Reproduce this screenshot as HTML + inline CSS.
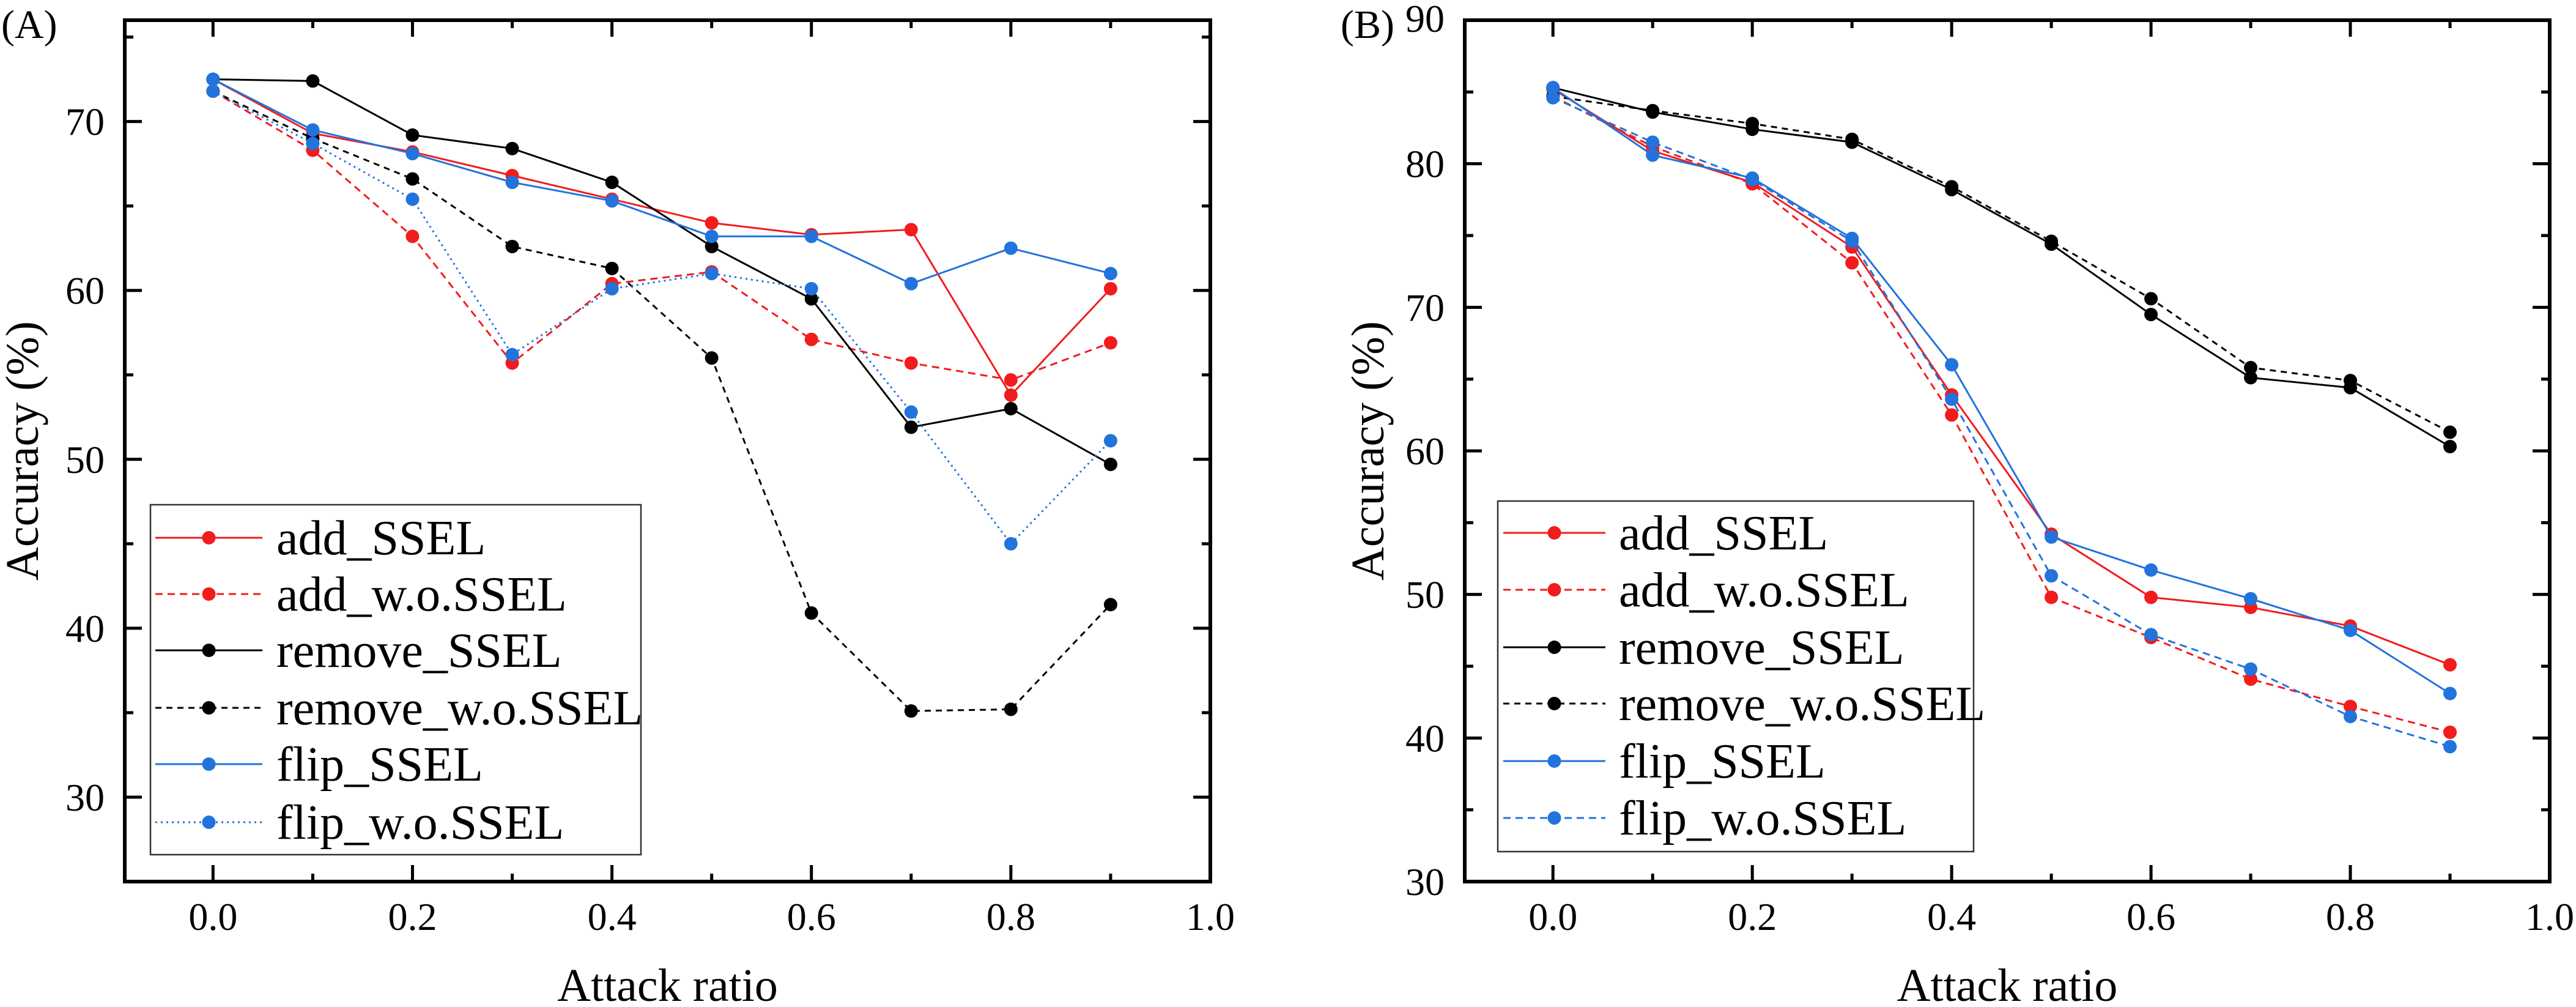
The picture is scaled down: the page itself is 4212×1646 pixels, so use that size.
<!DOCTYPE html>
<html><head><meta charset="utf-8"><style>
html,body{margin:0;padding:0;background:#fff;}
svg{display:block;font-family:"Liberation Serif","Times New Roman","DejaVu Serif",serif;}
</style></head><body>
<svg id="fig" width="4212" height="1646" viewBox="0 0 4212 1646"></svg>
<script>
const xValues = [0,0.1,0.2,0.3,0.4,0.5,0.6,0.7,0.8,0.9];
const xTickLabels = ["0.0","0.2","0.4","0.6","0.8","1.0"];
const seriesNames = ["add_SSEL","add_w.o.SSEL","remove_SSEL","remove_w.o.SSEL","flip_SSEL","flip_w.o.SSEL"];
const aAddSSEL = [72.5,69.3,68.2,66.8,65.4,64.0,63.3,63.6,53.8,60.1];
const aAddWo = [71.8,68.3,63.2,55.7,60.4,61.1,57.1,55.7,54.7,56.9];
const aRemoveSSEL = [72.5,72.4,69.2,68.4,66.4,62.6,59.5,51.9,53.0,49.7];
const aRemoveWo = [71.8,69.0,66.6,62.6,61.3,56.0,40.9,35.1,35.2,41.4];
const aFlipSSEL = [72.5,69.5,68.1,66.4,65.3,63.2,63.2,60.4,62.5,61.0];
const aFlipWo = [71.8,68.7,65.4,56.2,60.1,61.0,60.1,52.8,45.0,51.1];
const aYTicks = [30,40,50,60,70];
const bAddSSEL = [85.2,80.9,78.7,74.2,63.9,54.2,49.8,49.1,47.8,45.1];
const bAddWo = [84.7,81.2,78.6,73.1,62.5,49.8,47.0,44.1,42.2,40.4];
const bRemoveSSEL = [85.3,83.6,82.4,81.5,78.2,74.4,69.5,65.1,64.4,60.3];
const bRemoveWo = [84.7,83.7,82.8,81.7,78.4,74.6,70.6,65.8,64.9,61.3];
const bFlipSSEL = [85.3,80.6,79.0,74.8,66.0,54.0,51.7,49.7,47.5,43.1];
const bFlipWo = [84.6,81.5,78.9,74.6,63.6,51.3,47.2,44.8,41.5,39.4];
const bYTicks = [30,40,50,60,70,80,90];

const NS = "http://www.w3.org/2000/svg";
const svg = document.getElementById('fig');
function mk(tag, attrs, parent){
  const e = document.createElementNS(NS, tag);
  for (const k in attrs) e.setAttribute(k, attrs[k]);
  (parent||svg).appendChild(e);
  return e;
}
const RED="#f21c1c", BLUE="#2273dc", BLK="#000";

function panel(opt){
  const g = mk('g',{});
  
  
  const L=opt.left, R=opt.right, T=33, B=1441;
  const xmin=-0.0885, xmax=1.0;
  const sx = v => L + (v-xmin)/(xmax-xmin)*(R-L);
  const sy = v => B - (v-opt.ymin)/(opt.ymax-opt.ymin)*(B-T);
  const tk = mk('g',{stroke:'#000','stroke-width':5},g);
  
  
  for (let i=0;i<=10;i++){
    const v=i/10, x=sx(v), len=(i%2==0)?27:13;
    mk('line',{x1:x,x2:x,y1:B,y2:B-len},tk);
    mk('line',{x1:x,x2:x,y1:T,y2:T+len},tk);
  }
  for (let v=Math.ceil(opt.ymin/5)*5; v<=opt.ymax; v+=5){
    const y=sy(v), len=(v%10==0)?28:14;
    mk('line',{x1:L,x2:L+len,y1:y,y2:y},tk);
    mk('line',{x1:R,x2:R-len,y1:y,y2:y},tk);
  }
  const fr = mk('rect',{x:L,y:T,width:R-L,height:B-T,fill:'none',stroke:'#000','stroke-width':6},g);
  
  
  xTickLabels.forEach(s=>{
    const t = mk('text',{x:sx(parseFloat(s)),y:1520,'font-size':64,'text-anchor':'middle'},g);
    
    
    t.textContent=s;
  });
  opt.yTicks.forEach(v=>{
    const isTop = (v===opt.ymax);
    const t = mk('text',{x:L-33,y:isTop?52:sy(v)+22,'font-size':64,'text-anchor':'end'},g);
    
    
    t.textContent=String(v);
  });
  const xt = mk('text',{x:(L+R)/2,y:1636,'font-size':76,'text-anchor':'middle'},g);
  
  
  xt.textContent='Attack ratio';
  const yt = mk('text',{x:0,y:0,'font-size':76,'text-anchor':'middle',transform:`translate(${opt.ytx},737) rotate(-90)`},g);
  
  
  yt.textContent='Accuracy (%)';
  const pl = mk('text',{x:opt.plx,y:62,'font-size':66},g);
  
  
  pl.textContent=opt.label;
  const series = opt.series;
  series.forEach(s=>{
    const sg = mk('g',{},g);
    
    
    const pts = xValues.map((x,i)=>sx(x).toFixed(1)+','+sy(s.data[i]).toFixed(1)).join(' ');
    const attrs={points:pts,fill:'none',stroke:s.color,'stroke-width':3};
    if (s.dash) attrs['stroke-dasharray']=s.dash;
    mk('polyline',attrs,sg);
    xValues.forEach((x,i)=>{
      const c = mk('circle',{cx:sx(x),cy:sy(s.data[i]),r:11,fill:s.color},sg);
      
      
    });
  });
  const lg = mk('g',{},g);
  
  
  const lb = opt.legend;
  mk('rect',{x:lb.x,y:lb.y,width:lb.w,height:lb.h,fill:'#fff',stroke:'#333','stroke-width':2.5},lg);
  series.forEach((s,i)=>{
    const e = mk('g',{},lg);
    
    
    const y = lb.rows[i];
    const a={x1:lb.l1,x2:lb.l2,y1:y,y2:y,stroke:s.color,'stroke-width':3};
    if (s.dash) a['stroke-dasharray']=s.dash;
    mk('line',a,e);
    mk('circle',{cx:(lb.l1+lb.l2)/2,cy:y,r:11,fill:s.color},e);
    const t = mk('text',{x:lb.tx,y:y+27,'font-size':80},e);
    t.textContent = seriesNames[i];
  });
}

panel({name:'panel-a',left:204,right:1979,ymin:25,ymax:76,yTicks:aYTicks,ytx:62,plx:2,label:'(A)',
  series:[
    {key:'add-ssel',data:aAddSSEL,color:RED},
    {key:'add-wo-ssel',data:aAddWo,color:RED,dash:'12 8'},
    {key:'remove-ssel',data:aRemoveSSEL,color:BLK},
    {key:'remove-wo-ssel',data:aRemoveWo,color:BLK,dash:'10 8'},
    {key:'flip-ssel',data:aFlipSSEL,color:BLUE},
    {key:'flip-wo-ssel',data:aFlipWo,color:BLUE,dash:'3 6'}
  ],
  legend:{x:246,y:825,w:802,h:572,rows:[879,971,1063,1157,1249,1344],l1:254,l2:429,tx:452}
});
panel({name:'panel-b',left:2395,right:4169,ymin:30,ymax:90,yTicks:bYTicks,ytx:2262,plx:2192,label:'(B)',
  series:[
    {key:'add-ssel',data:bAddSSEL,color:RED},
    {key:'add-wo-ssel',data:bAddWo,color:RED,dash:'12 8'},
    {key:'remove-ssel',data:bRemoveSSEL,color:BLK},
    {key:'remove-wo-ssel',data:bRemoveWo,color:BLK,dash:'10 8'},
    {key:'flip-ssel',data:bFlipSSEL,color:BLUE},
    {key:'flip-wo-ssel',data:bFlipWo,color:BLUE,dash:'12 8'}
  ],
  legend:{x:2449,y:819,w:778,h:573,rows:[871,964,1058,1150,1244,1337],l1:2458,l2:2625,tx:2647}
});
</script>
</body></html>
